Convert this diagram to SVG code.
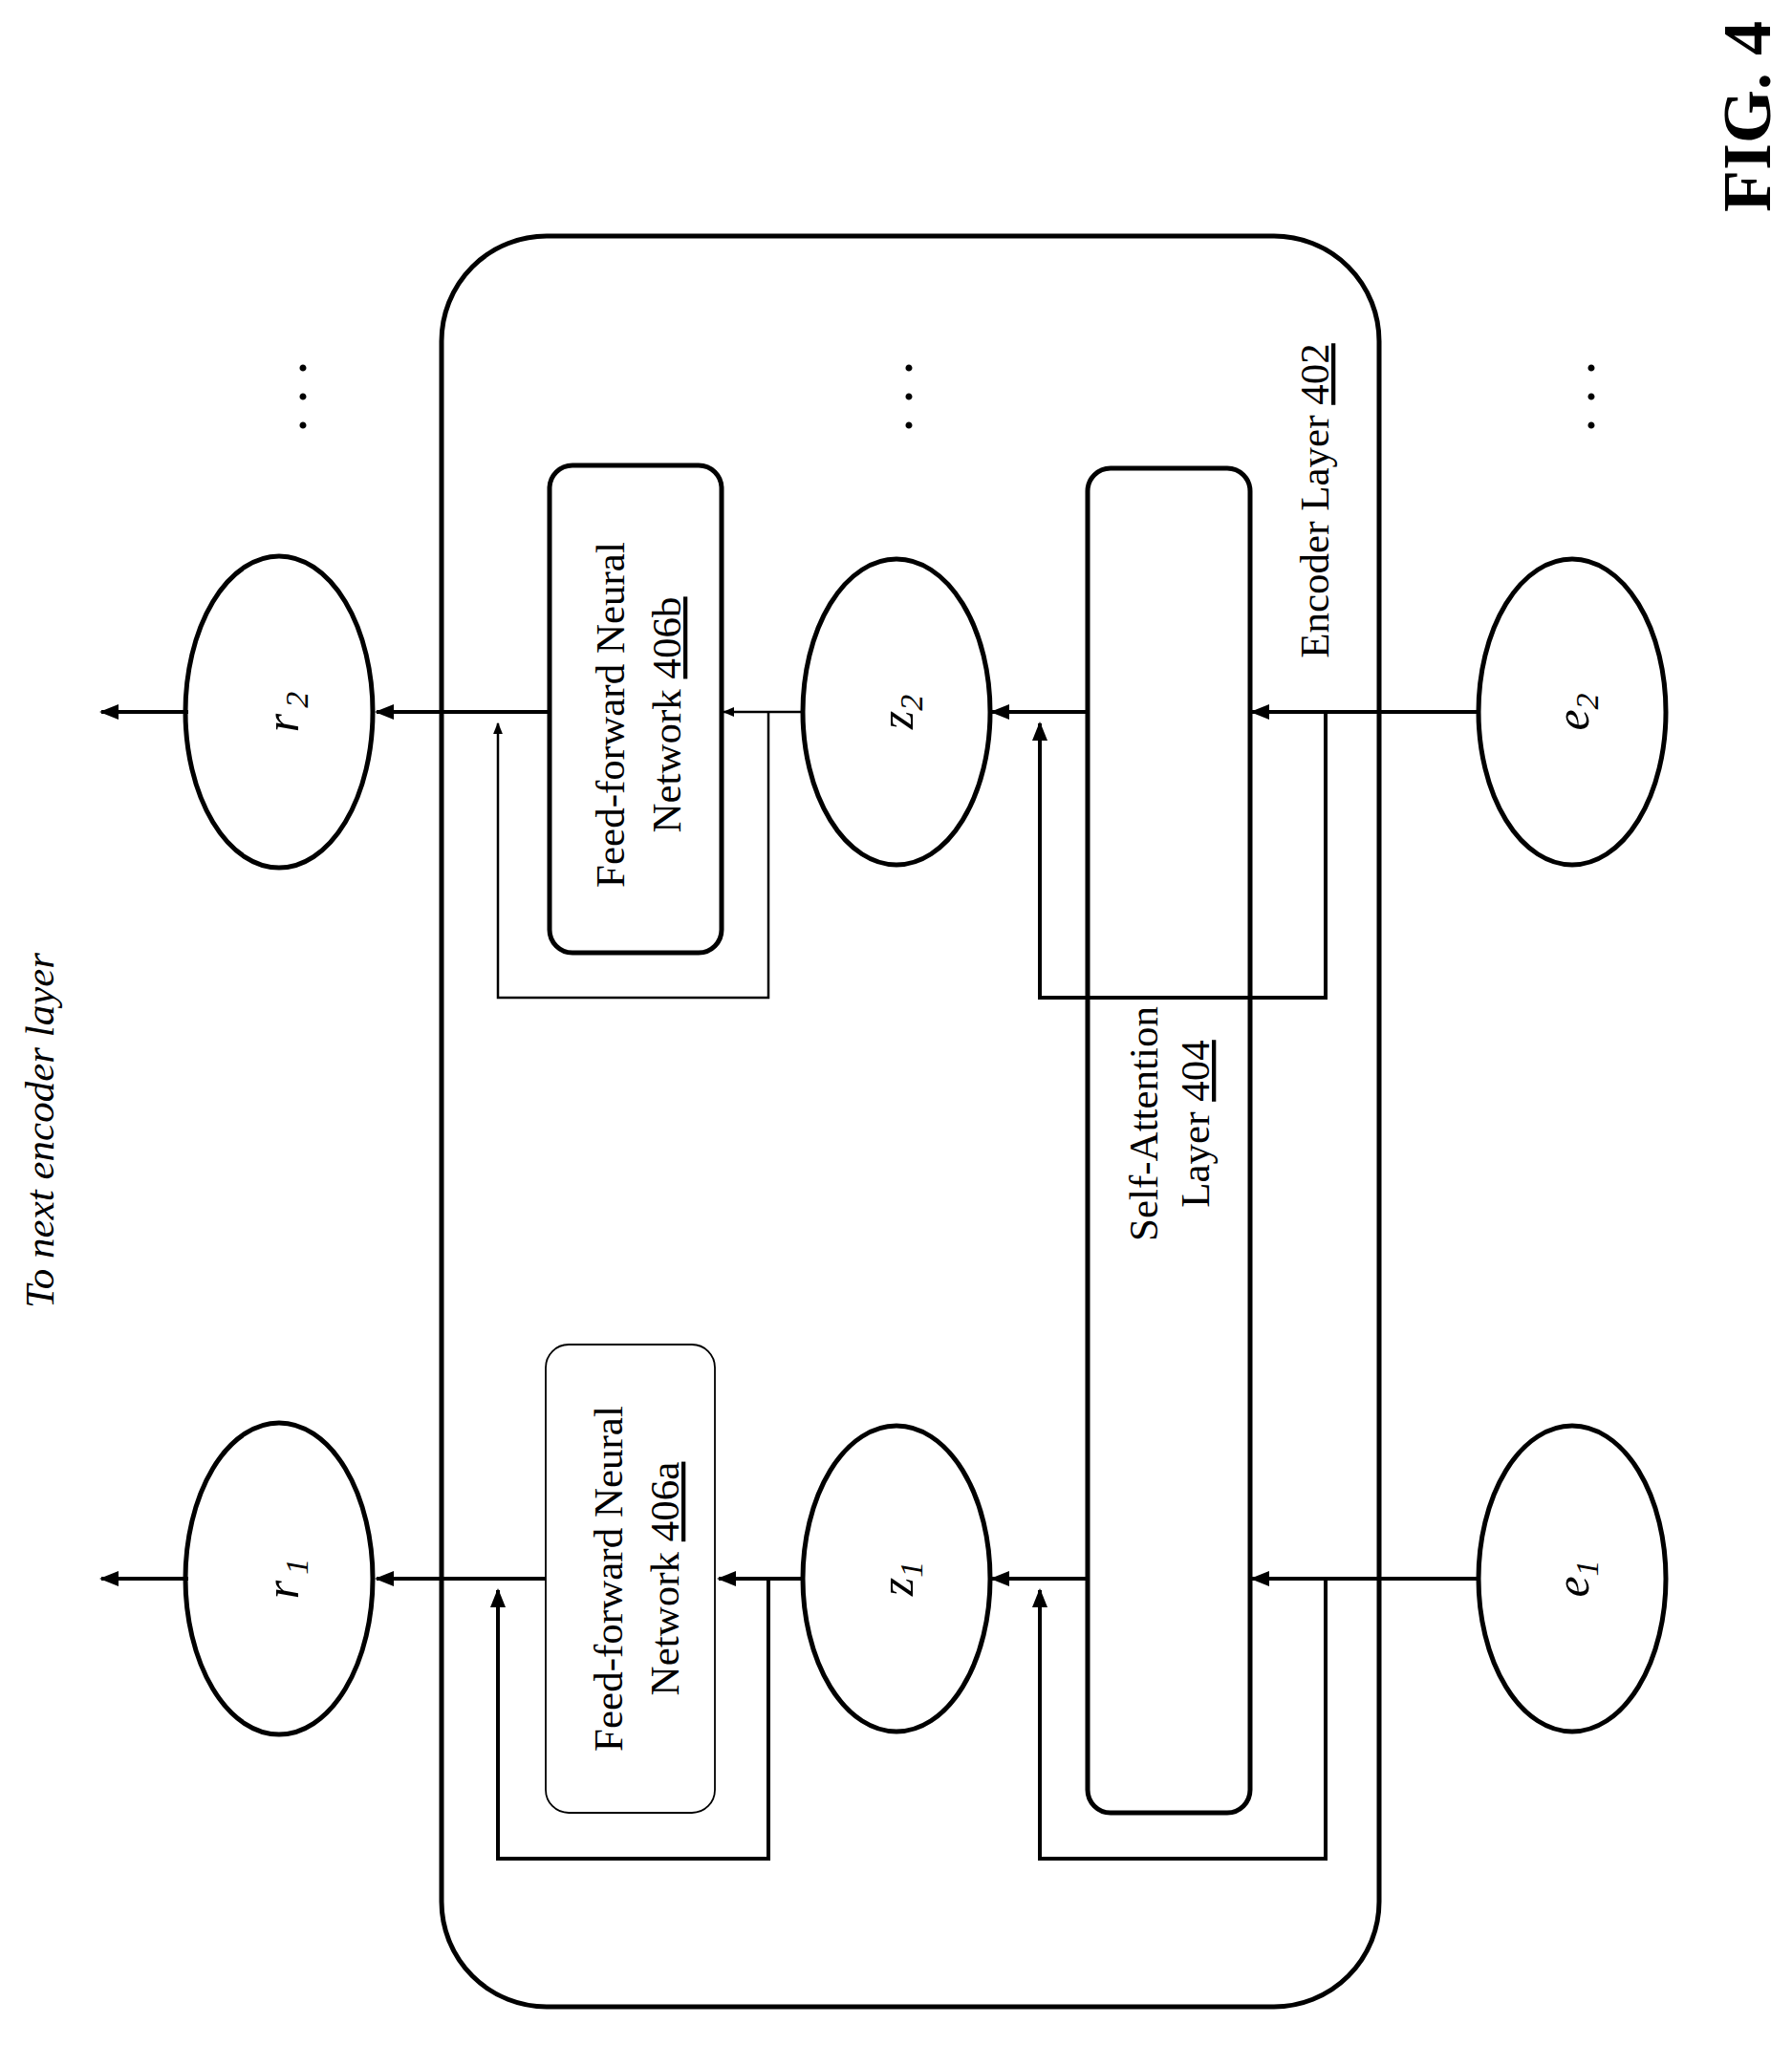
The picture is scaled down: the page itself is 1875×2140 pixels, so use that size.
<svg xmlns="http://www.w3.org/2000/svg" width="1875" height="2140" viewBox="0 0 1875 2140">
<defs>
<marker id="ah" viewBox="0 0 10 10" refX="9" refY="5" markerWidth="5" markerHeight="5" orient="auto" markerUnits="strokeWidth"><path d="M0,1 L10,5 L0,9 z" fill="#000"/></marker>
<style>
.t{font-family:"Liberation Serif",serif;font-size:43px;fill:#000;text-anchor:middle}
.i{font-style:italic}
.n{fill:#fff;stroke:#000;stroke-width:5}
.c{fill:none;stroke:#000;stroke-width:4}
</style>
</defs>
<rect width="1875" height="2140" fill="#fff"/>
<text class="t i" transform="translate(56,1183) rotate(-90)">To next encoder layer</text>
<text class="t" style="font-weight:bold;font-size:72px" transform="translate(1852,122) rotate(-90)">FIG. 4</text>
<g id="encoder402"><rect class="n" x="462" y="247" width="981" height="1853" rx="110"/>
<text class="t" transform="translate(1390,524) rotate(-90)">Encoder Layer <tspan text-decoration="underline">402</tspan></text></g>
<g id="ffn406b"><rect class="n" x="575" y="487" width="180" height="510" rx="24"/>
<text class="t" transform="translate(653,748) rotate(-90)">Feed-forward Neural</text>
<text class="t" transform="translate(712,748) rotate(-90)">Network <tspan text-decoration="underline">406b</tspan></text></g>
<g id="ffn406a"><rect x="571" y="1407" width="177" height="490" rx="24" fill="#fff" stroke="#000" stroke-width="1.8"/>
<text class="t" transform="translate(651,1652) rotate(-90)">Feed-forward Neural</text>
<text class="t" transform="translate(710,1652) rotate(-90)">Network <tspan text-decoration="underline">406a</tspan></text></g>
<g id="sa404"><rect class="n" x="1138" y="490" width="170" height="1407" rx="24"/>
<text class="t" transform="translate(1211,1176) rotate(-90)">Self-Attention</text>
<text class="t" transform="translate(1265,1176) rotate(-90)">Layer <tspan text-decoration="underline">404</tspan></text></g>
<g id="r2"><ellipse class="n" cx="292" cy="745" rx="98" ry="163"/><text class="t i" style="font-size:50px" transform="translate(312,745) rotate(-90)">r<tspan font-size="34" dy="10" dx="6">2</tspan></text></g>
<g id="r1"><ellipse class="n" cx="292" cy="1652" rx="98" ry="163"/><text class="t i" style="font-size:50px" transform="translate(312,1652) rotate(-90)">r<tspan font-size="34" dy="10" dx="6">1</tspan></text></g>
<g id="z2"><ellipse class="n" cx="938" cy="745" rx="98" ry="160"/><text class="t i" style="font-size:50px" transform="translate(955,745) rotate(-90)">z<tspan font-size="34" dy="10">2</tspan></text></g>
<g id="z1"><ellipse class="n" cx="938" cy="1652" rx="98" ry="160"/><text class="t i" style="font-size:50px" transform="translate(955,1652) rotate(-90)">z<tspan font-size="34" dy="10">1</tspan></text></g>
<g id="e2"><ellipse class="n" cx="1645" cy="745" rx="98" ry="160"/><text class="t i" style="font-size:50px" transform="translate(1662,745) rotate(-90)">e<tspan font-size="34" dy="10">2</tspan></text></g>
<g id="e1"><ellipse class="n" cx="1645" cy="1652" rx="98" ry="160"/><text class="t i" style="font-size:50px" transform="translate(1662,1652) rotate(-90)">e<tspan font-size="34" dy="10">1</tspan></text></g>
<g id="dots">
<text class="t" style="font-size:60px" transform="translate(320,415) rotate(-90)">. . .</text>
<text class="t" style="font-size:60px" transform="translate(954,415) rotate(-90)">. . .</text>
<text class="t" style="font-size:60px" transform="translate(1668,415) rotate(-90)">. . .</text>
</g>
<g id="connectors" class="c" marker-end="url(#ah)">
<path d="M197,745 H106"/><path d="M197,1652 H106"/>
<path d="M575,745 H394"/><path d="M571,1652 H394"/>
<path d="M840,745 H757" stroke-width="2.5"/><path d="M840,1652 H752"/>
<path d="M1138,745 H1038"/><path d="M1138,1652 H1038"/>
<path d="M1547,745 H1310"/><path d="M1547,1652 H1310"/>
<path d="M804,745 V1044 H521 V757" stroke-width="2.5"/>
<path d="M804,1652 V1945 H521 V1664"/>
<path d="M1387,745 V1044 H1088 V757"/>
<path d="M1387,1652 V1945 H1088 V1664"/>
</g>
</svg>
